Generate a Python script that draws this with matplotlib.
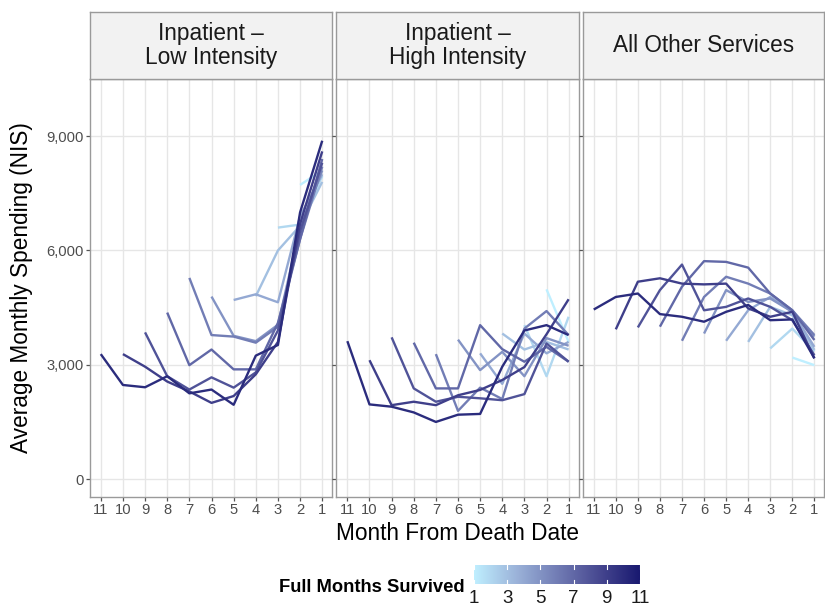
import matplotlib
matplotlib.use("Agg")
import matplotlib.pyplot as plt
import numpy as np
from matplotlib.colors import LinearSegmentedColormap, Normalize

plt.rcParams['font.family'] = ['Liberation Sans', 'DejaVu Sans']

PANEL_TITLES = ["Inpatient \u2013\nLow Intensity",
                "Inpatient \u2013\nHigh Intensity",
                "All Other Services"]

# full months survived; a line for survived s runs from month s+1 down to 1
SURVIVED = [1, 2, 3, 4, 5, 6, 7, 8, 9, 10]
MONTH_TICKS = list(range(11, 0, -1))
Y_TICKS = [0, 3000, 6000, 9000]
Y_LABELS = ["0", "3,000", "6,000", "9,000"]
LEGEND_TICKS = [1, 3, 5, 7, 9, 11]

# values listed from the earliest month down to month 1
LOW_INTENSITY = [
    [7720, 8100],
    [6600, 6680, 7950],
    [4800, 6000, 6650, 7800],
    [4700, 4850, 4640, 6900, 8000],
    [4790, 3760, 3620, 4050, 6600, 8100],
    [5280, 3780, 3740, 3580, 4000, 6300, 8200],
    [4370, 2990, 3400, 2880, 2880, 4100, 6300, 8400],
    [3850, 2700, 2350, 2670, 2400, 2800, 3900, 6500, 8300],
    [3280, 2950, 2560, 2300, 2000, 2180, 2750, 3600, 6700, 8600],
    [3280, 2470, 2410, 2700, 2250, 2350, 1950, 3240, 3520, 7000, 8880],
]

HIGH_INTENSITY = [
    [4980, 3600],
    [4040, 2700, 4260],
    [3820, 3400, 3600, 3400],
    [3300, 2500, 3820, 3300, 3600],
    [3660, 2860, 3340, 2700, 3700, 3500],
    [3280, 1790, 2400, 2100, 3950, 4410, 3780],
    [3580, 2380, 2380, 4040, 3410, 3080, 3470, 3080],
    [3720, 2380, 2030, 2160, 2120, 2070, 2230, 3560, 3080],
    [3120, 1940, 2030, 1940, 2200, 2340, 2600, 2940, 3800, 4720],
    [3620, 1960, 1900, 1750, 1500, 1690, 1710, 2950, 3900, 4040, 3780],
]

OTHER_SERVICES = [
    [3190, 2990],
    [3430, 3950, 3350],
    [3600, 4520, 4300, 3390],
    [3630, 4430, 4780, 4390, 3470],
    [3820, 4960, 4650, 4740, 4390, 3740],
    [3630, 4780, 5310, 5130, 4870, 4430, 3780],
    [4000, 5050, 5720, 5700, 5550, 4870, 4430, 3650],
    [3980, 4960, 5630, 4430, 4520, 4740, 4520, 4170, 3250],
    [3930, 5180, 5270, 5130, 5110, 5130, 4480, 4260, 4390, 3170],
    [4450, 4780, 4870, 4330, 4260, 4130, 4390, 4570, 4170, 4190, 3170],
]

PANEL_DATA = [LOW_INTENSITY, HIGH_INTENSITY, OTHER_SERVICES]

W, H = 825, 610


def px_rect(x0, y0, x1, y1):
    return [x0 / W, 1 - y1 / H, (x1 - x0) / W, (y1 - y0) / H]


# lightblue1 -> midnightblue, stops taken along a Lab-space blend
cmap = LinearSegmentedColormap.from_list(
    "surv", ["#BFEFFF", "#9cb4da", "#727db5", "#484991", "#191970"])
norm = Normalize(vmin=1, vmax=11)

fig = plt.figure(figsize=(8.25, 6.1), dpi=100)

panel_x = [(89.7, 332.2), (336.3, 578.6), (582.7, 824.3)]
for i, (x0, x1) in enumerate(panel_x):
    ax = fig.add_axes(px_rect(x0, 79, x1, 497))
    for s, vals in zip(SURVIVED, PANEL_DATA[i]):
        months = np.arange(s + 1, 0, -1)
        ax.plot(months, vals, color=cmap(norm(s)), lw=1.7,
                solid_capstyle='butt', zorder=3)
    ax.set_xlim(11.5, 0.55)
    ax.set_ylim(-470, 10500)
    ax.set_xticks(MONTH_TICKS)
    ax.set_xticklabels([str(m) for m in MONTH_TICKS])
    ax.set_yticks(Y_TICKS)
    if i == 0:
        ax.set_yticklabels(Y_LABELS)
    else:
        ax.set_yticklabels([])
        ax.tick_params(axis='y', length=0)
    ax.grid(True, color='#e6e6e6', lw=1.0, zorder=0)
    ax.set_axisbelow(True)
    for sp in ax.spines.values():
        sp.set_color('#9a9a9a')
        sp.set_linewidth(1.0)
    ax.tick_params(direction='out', length=3, width=0.9, color='#555555',
                   labelcolor='#4d4d4d', labelsize=10.6, pad=1.5)

    # facet strip
    st = fig.add_axes(px_rect(x0, 12.3, x1, 79))
    st.set_facecolor('#f2f2f2')
    st.set_xticks([])
    st.set_yticks([])
    for sp in st.spines.values():
        sp.set_color('#9a9a9a')
        sp.set_linewidth(1.0)
    st.text(0.5, 0.5, PANEL_TITLES[i], ha='center', va='center',
            fontsize=16.3, color='#1a1a1a', linespacing=1.05,
            transform=st.transAxes)

fig.text(458 / W, 1 - 533 / H, "Month From Death Date", ha='center',
         va='center', fontsize=16.3, color='black')
fig.text(22 / W, 1 - 288 / H, "Average Monthly Spending (NIS)", ha='center',
         va='center', rotation=90, fontsize=16.3, color='black')

# colour bar legend
cax = fig.add_axes(px_rect(474, 565, 640, 584))
grad = np.linspace(1, 11, 256).reshape(1, -1)
cax.imshow(grad, cmap=cmap, norm=norm, aspect='auto',
           extent=[1, 11, 0, 1], origin='lower')
for v in LEGEND_TICKS:
    cax.plot([v, v], [0, 0.2], color='white', lw=0.8)
    cax.plot([v, v], [0.8, 1], color='white', lw=0.8)
cax.set_xlim(1, 11)
cax.set_ylim(0, 1)
cax.set_yticks([])
cax.set_xticks(LEGEND_TICKS)
cax.set_xticklabels([str(v) for v in LEGEND_TICKS])
cax.tick_params(axis='x', length=0, pad=4, labelsize=13.5, labelcolor='#1a1a1a')
for sp in cax.spines.values():
    sp.set_visible(False)

fig.text(465 / W, 1 - 587 / H, "Full Months Survived", ha='right',
         va='center', fontsize=13.2, fontweight='bold', color='black')

fig.savefig("out.png", dpi=100)
